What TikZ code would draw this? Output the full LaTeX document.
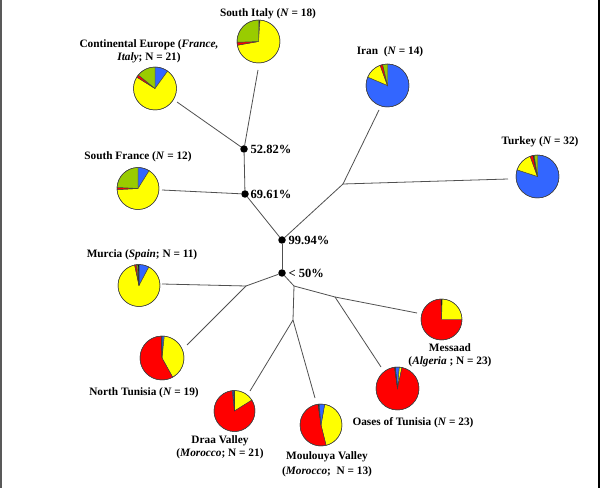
\documentclass[tikz,border=0pt]{standalone}
\usepackage{fontspec}
\setmainfont{Liberation Serif}
\definecolor{pblue}{RGB}{51,102,255}
\definecolor{pyellow}{RGB}{255,255,0}
\definecolor{pred}{RGB}{255,0,0}
\definecolor{pgreen}{RGB}{153,204,0}
\definecolor{branchgray}{RGB}{80,80,80}
\newcommand{\pslice}[5]{\filldraw[pieedge,fill=#5] (#1) -- ++(#3:#2) arc[start angle=#3,end angle=#4,radius=#2] -- cycle;}
\newcommand{\pring}[2]{\draw[pieedge] (#1) circle[radius=#2];}
\begin{document}
\begin{tikzpicture}[x=1pt,y=1pt,
  branch/.style={draw=branchgray,line width=0.8pt},
  dotnode/.style={circle,fill=black,inner sep=0pt,minimum size=7.5pt},
  pieedge/.style={draw=black!75,line width=0.45pt},
  poplabel/.style={font=\fontsize{11.3}{13.3}\selectfont\bfseries,align=center,inner sep=0pt},
  pctlabel/.style={font=\fontsize{12.5}{14}\selectfont\bfseries,anchor=west,inner sep=0pt}]
\useasboundingbox (0,0) rectangle (600,488);
\fill[white] (0,0) rectangle (600,488);
\fill[black!65] (0,0) rectangle (1.6,488);
\fill[black] (597.8,0) rectangle (600,488);
% internal nodes
\node[dotnode] (n52) at (244,339) {};
\node[dotnode] (n69) at (245,294) {};
\node[dotnode] (n99) at (282,248) {};
\node[dotnode] (n50) at (282,215) {};
\coordinate (bIT) at (343,304);
\coordinate (bMN) at (246,202);
\coordinate (bD) at (294,202);
\coordinate (bDM) at (293,168);
\coordinate (bOM) at (335,191);
% leaf ends
\coordinate (eSI) at (258,418);
\coordinate (eCE) at (177,386);
\coordinate (eSF) at (162,298);
\coordinate (eIR) at (379,378);
\coordinate (eTU) at (508,309);
\coordinate (eMU) at (162,204);
\coordinate (eNT) at (187,143);
\coordinate (eDR) at (250,97);
\coordinate (eMO) at (315,90);
\coordinate (eOA) at (381,121);
\coordinate (eME) at (417,175);
% branches
\draw[branch] (n52) -- (eSI);
\draw[branch] (n52) -- (eCE);
\draw[branch] (n52) -- (n69);
\draw[branch] (n69) -- (eSF);
\draw[branch] (n69) -- (n99);
\draw[branch] (n99) -- (bIT);
\draw[branch] (bIT) -- (eIR);
\draw[branch] (bIT) -- (eTU);
\draw[branch] (n99) -- (n50);
\draw[branch] (n50) -- (bMN);
\draw[branch] (bMN) -- (eMU);
\draw[branch] (bMN) -- (eNT);
\draw[branch] (n50) -- (bD);
\draw[branch] (bD) -- (bDM);
\draw[branch] (bDM) -- (eDR);
\draw[branch] (bDM) -- (eMO);
\draw[branch] (bD) -- (bOM);
\draw[branch] (bOM) -- (eOA);
\draw[branch] (bOM) -- (eME);
% pies
\coordinate (pSI) at (258.5,446.5);
\pslice{pSI}{21.5pt}{90}{86}{black}
\pslice{pSI}{21.5pt}{86}{-170}{pyellow}
\pslice{pSI}{21.5pt}{-170}{-178}{pred}
\pslice{pSI}{21.5pt}{-178}{-270}{pgreen}
\pring{pSI}{21.5pt}
\coordinate (pCE) at (155,399.5);
\pslice{pCE}{21.5pt}{90}{54}{pblue}
\pslice{pCE}{21.5pt}{54}{-212}{pyellow}
\pslice{pCE}{21.5pt}{-212}{-219}{pred}
\pslice{pCE}{21.5pt}{-219}{-270}{pgreen}
\pring{pCE}{21.5pt}
\coordinate (pIR) at (387.5,402.5);
\pslice{pIR}{21.5pt}{90}{-203}{pblue}
\pslice{pIR}{21.5pt}{-203}{-250}{pyellow}
\pslice{pIR}{21.5pt}{-250}{-257}{pred}
\pslice{pIR}{21.5pt}{-257}{-270}{pgreen}
\pring{pIR}{21.5pt}
\coordinate (pTU) at (537.5,311.5);
\pslice{pTU}{21.5pt}{90}{-198}{pblue}
\pslice{pTU}{21.5pt}{-198}{-250}{pyellow}
\pslice{pTU}{21.5pt}{-250}{-258}{pred}
\pslice{pTU}{21.5pt}{-258}{-261}{black}
\pslice{pTU}{21.5pt}{-261}{-270}{pgreen}
\pring{pTU}{21.5pt}
\coordinate (pSF) at (138,299.5);
\pslice{pSF}{21pt}{90}{58}{pblue}
\pslice{pSF}{21pt}{58}{-177}{pyellow}
\pslice{pSF}{21pt}{-177}{-183}{pred}
\pslice{pSF}{21pt}{-183}{-270}{pgreen}
\pring{pSF}{21pt}
\coordinate (pMU) at (139,202.5);
\pslice{pMU}{21pt}{90}{62}{pblue}
\pslice{pMU}{21pt}{62}{-258}{pyellow}
\pslice{pMU}{21pt}{-258}{-263}{pred}
\pslice{pMU}{21pt}{-263}{-267}{pgreen}
\pslice{pMU}{21pt}{-267}{-270}{black}
\pring{pMU}{21pt}
\coordinate (pNT) at (162,130);
\pslice{pNT}{22pt}{90}{84}{pblue}
\pslice{pNT}{22pt}{84}{-61}{pyellow}
\pslice{pNT}{22pt}{-61}{-268}{pred}
\pslice{pNT}{22pt}{-268}{-270}{black}
\pring{pNT}{22pt}
\coordinate (pDR) at (234.5,77);
\pslice{pDR}{20.5pt}{90}{32}{pyellow}
\pslice{pDR}{20.5pt}{32}{-264}{pred}
\pslice{pDR}{20.5pt}{-264}{-268}{pblue}
\pslice{pDR}{20.5pt}{-268}{-270}{black}
\pring{pDR}{20.5pt}
\coordinate (pMO) at (321,63);
\pslice{pMO}{21pt}{80}{-76}{pyellow}
\pslice{pMO}{21pt}{-76}{-262}{pred}
\pslice{pMO}{21pt}{-262}{-265}{black}
\pslice{pMO}{21pt}{-265}{-280}{pblue}
\pring{pMO}{21pt}
\coordinate (pOA) at (397.5,99.5);
\pslice{pOA}{21.5pt}{96}{85}{pblue}
\pslice{pOA}{21.5pt}{85}{78}{pyellow}
\pslice{pOA}{21.5pt}{78}{-262}{pred}
\pslice{pOA}{21.5pt}{-262}{-264}{black}
\pring{pOA}{21.5pt}
\coordinate (pME) at (441.5,168.5);
\pslice{pME}{20.5pt}{92}{88}{black}
\pslice{pME}{20.5pt}{88}{0}{pyellow}
\pslice{pME}{20.5pt}{0}{-268}{pred}
\pring{pME}{20.5pt}
% population labels
\node[poplabel] (lSI) at (268,474) {South Italy (\textit{N} = 18)};
\node[poplabel] (lCE) at (149,436.5) {Continental Europe (\textit{France,}\\\textit{Italy}; N = 21)};
\node[poplabel] (lIR) at (390,436) {Iran\ \ (\textit{N} = 14)};
\node[poplabel] (lTU) at (540,346) {Turkey (\textit{N} = 32)};
\node[poplabel] (lSF) at (138,331) {South France (\textit{N} = 12)};
\node[poplabel] (lMU) at (142,233) {Murcia (\textit{Spain}; N = 11)};
\node[poplabel] (lNT) at (144,95) {North Tunisia (\textit{N} = 19)};
\node[poplabel] (lDR) at (220,40.5) {Draa Valley\\(\textit{Morocco}; N = 21)};
\node[poplabel] (lMO) at (327,23.5) {Moulouya Valley\\[1.5pt](\textit{Morocco};\ \ N = 13)};
\node[poplabel] (lOA) at (413,65) {Oases of Tunisia (\textit{N} = 23)};
\node[poplabel] (lME) at (450,133) {Messaad\\(\textit{Algeria} ; N = 23)};
% support labels
\node[pctlabel] (p52) at (250.5,339) {52.82\%};
\node[pctlabel] (p69) at (250.5,294) {69.61\%};
\node[pctlabel] (p99) at (288.5,248) {99.94\%};
\node[pctlabel] (p50) at (288.5,215) {< 50\%};
\end{tikzpicture}
\end{document}
